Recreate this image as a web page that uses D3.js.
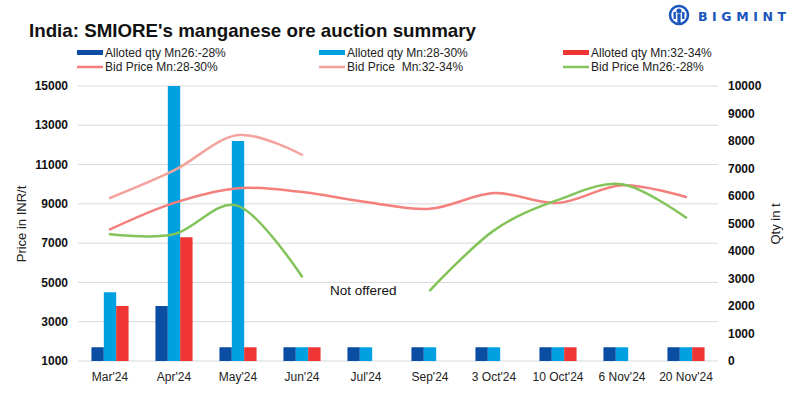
<!DOCTYPE html>
<html>
<head>
<meta charset="utf-8">
<script src="https://cdn.jsdelivr.net/npm/d3@7"></script>
<style>
  body { margin: 0; background: #fff; }
  svg { font-family: "Liberation Sans", Arial, sans-serif; }
  .grid line { stroke: #d9d9d9; stroke-width: 1; }
  .tick-label { font-size: 12px; font-weight: bold; fill: #111; }
  .cat-label { font-size: 12px; fill: #222; }
  .axis-title { font-size: 13px; fill: #222; }
  .legend text { font-size: 12px; fill: #222; }
</style>
</head>
<body>
<svg width="797" height="398"></svg>
<script>
// categories and values
var categories = ["Mar'24", "Apr'24", "May'24", "Jun'24", "Jul'24", "Sep'24", "3 Oct'24", "10 Oct'24", "6 Nov'24", "20 Nov'24"];

// allotted quantity, tonnes (right axis)
var qtyMn26 = [500, 2000, 500, 500, 500, 500, 500, 500, 500, 500];
var qtyMn28 = [2500, 10000, 8000, 500, 500, 500, 500, 500, 500, 500];
var qtyMn32 = [2000, 4500, 500, 500, 0, 0, 0, 500, 0, 500];

// bid prices, INR/t (left axis); null = not offered
var priceMn28 = [7700, 9050, 9800, 9600, 9100, 8750, 9550, 9050, 9950, 9350];
var priceMn32 = [9300, 10700, 12500, 11500, null, null, null, null, null, null];
var priceMn26 = [7450, 7450, 8900, 5300, null, 4600, 7650, 9200, 10000, 8300];

var leftTicks = [1000, 3000, 5000, 7000, 9000, 11000, 13000, 15000];
var rightTicks = [0, 1000, 2000, 3000, 4000, 5000, 6000, 7000, 8000, 9000, 10000];

var barSeries = [
  { name: "Alloted qty Mn26:-28%", values: qtyMn26, color: "#0a4da2" },
  { name: "Alloted qty Mn:28-30%", values: qtyMn28, color: "#00a1e1" },
  { name: "Alloted qty Mn:32-34%", values: qtyMn32, color: "#ee3533" }
];
var lineSeries = [
  { name: "Bid Price Mn:28-30%", values: priceMn28, color: "#f47f7c" },
  { name: "Bid Price  Mn:32-34%", values: priceMn32, color: "#f4a39c" },
  { name: "Bid Price Mn26:-28%", values: priceMn26, color: "#82c45a" }
];

var svg = d3.select("svg");

var g = {
  header: svg.append("g").attr("id", "header"),
  legend: svg.append("g").attr("class", "legend"),
  grid: svg.append("g").attr("class", "grid"),
  bars: svg.append("g").attr("id", "bars"),
  lines: svg.append("g").attr("id", "lines"),
  axes: svg.append("g").attr("id", "axes")
};

var plot = { left: 78, right: 718, top: 86, bottom: 361 };

var x = d3.scaleBand()
  .domain(categories)
  .range([plot.left, plot.right])
  .paddingInner(0.42)
  .paddingOuter(0.21);

var xSub = d3.scaleBand()
  .domain(d3.range(barSeries.length))
  .range([0, x.bandwidth()]);

var yLeft = d3.scaleLinear().domain([1000, 15000]).range([plot.bottom, plot.top]);
var yRight = d3.scaleLinear().domain([0, 10000]).range([plot.bottom, plot.top]);

// title
g.header.append("text")
  .attr("x", 29)
  .attr("y", 37)
  .attr("textLength", 447)
  .attr("lengthAdjust", "spacingAndGlyphs")
  .style("font-size", "19px")
  .style("font-weight", "bold")
  .style("fill", "#111")
  .text("India: SMIORE's manganese ore auction summary");

// logo
var logo = g.header.append("g").attr("transform", translate(679, 15));
logo.append("circle").attr("r", 9).attr("fill", "none").attr("stroke", "#1a56bd").attr("stroke-width", 2.6);
logo.append("circle").attr("cx", 0).attr("cy", -4).attr("r", 2.6).attr("fill", "#1a56bd");
logo.append("rect").attr("x", -1.6).attr("y", -1).attr("width", 3.2).attr("height", 9).attr("fill", "#1a56bd");
logo.append("rect").attr("x", -5.5).attr("y", -3).attr("width", 2.4).attr("height", 7).attr("fill", "#1a56bd");
logo.append("rect").attr("x", 3.1).attr("y", -3).attr("width", 2.4).attr("height", 7).attr("fill", "#1a56bd");
g.header.append("text")
  .attr("x", 698)
  .attr("y", 20.5)
  .attr("textLength", 88)
  .attr("lengthAdjust", "spacing")
  .style("font-family", "'DejaVu Sans', sans-serif")
  .style("font-size", "12.5px")
  .style("font-weight", "bold")
  .style("fill", "#1a56bd")
  .text("BIGMINT");

// legend
var legendX = [77, 319, 563];

var barLegend = g.legend.selectAll("g.bar-item")
  .data(barSeries)
  .enter()
  .append("g")
  .attr("class", "bar-item")
  .attr("transform", function(d, i) { return translate(legendX[i], 50); });

barLegend.append("rect")
  .attr("width", 26)
  .attr("height", 5)
  .attr("fill", function(d) { return d.color; });

barLegend.append("text")
  .attr("x", 28)
  .attr("y", 6.5)
  .text(function(d) { return d.name; });

var lineLegend = g.legend.selectAll("g.line-item")
  .data(lineSeries)
  .enter()
  .append("g")
  .attr("class", "line-item")
  .attr("transform", function(d, i) { return translate(legendX[i], 67); });

lineLegend.append("line")
  .attr("x1", 0)
  .attr("x2", 26)
  .attr("stroke", function(d) { return d.color; })
  .attr("stroke-width", 2.5);

lineLegend.append("text")
  .attr("x", 28)
  .attr("y", 4)
  .style("white-space", "pre")
  .text(function(d) { return d.name; });

// gridlines on the left axis ticks
g.grid.selectAll("line")
  .data(leftTicks)
  .enter()
  .append("line")
  .attr("x1", plot.left)
  .attr("x2", plot.right)
  .attr("y1", function(d) { return yLeft(d); })
  .attr("y2", function(d) { return yLeft(d); });

// bars
var groups = g.bars.selectAll("g")
  .data(categories)
  .enter()
  .append("g")
  .attr("transform", function(d) { return translate(x(d), 0); });

groups.selectAll("rect")
  .data(function(d, ci) {
    return barSeries.map(function(s, si) { return { si: si, value: s.values[ci], color: s.color }; });
  })
  .enter()
  .filter(function(d) { return d.value > 0; })
  .append("rect")
  .attr("x", function(d) { return xSub(d.si); })
  .attr("width", xSub.bandwidth())
  .attr("y", function(d) { return yRight(d.value); })
  .attr("height", function(d) { return yRight(0) - yRight(d.value); })
  .attr("fill", function(d) { return d.color; });

// smoothed price lines
var line = d3.line()
  .defined(function(d) { return d != null; })
  .x(function(d, i) { return x(categories[i]) + x.bandwidth() / 2; })
  .y(function(d) { return yLeft(d); })
  .curve(d3.curveCatmullRom.alpha(0));

g.lines.selectAll("path")
  .data(lineSeries)
  .enter()
  .append("path")
  .attr("d", function(d) { return line(d.values); })
  .attr("fill", "none")
  .attr("stroke", function(d) { return d.color; })
  .attr("stroke-width", 2.5)
  .attr("stroke-linecap", "round");

g.lines.append("text")
  .attr("x", 330)
  .attr("y", 295)
  .style("font-size", "13.5px")
  .style("fill", "#111")
  .text("Not offered");

// axes labels
g.axes.selectAll("text.left")
  .data(leftTicks)
  .enter()
  .append("text")
  .attr("class", "tick-label left")
  .attr("x", 68)
  .attr("y", function(d) { return yLeft(d); })
  .attr("dy", "0.35em")
  .attr("text-anchor", "end")
  .text(function(d) { return d; });

g.axes.selectAll("text.right")
  .data(rightTicks)
  .enter()
  .append("text")
  .attr("class", "tick-label right")
  .attr("x", 728)
  .attr("y", function(d) { return yRight(d); })
  .attr("dy", "0.35em")
  .text(function(d) { return d; });

g.axes.selectAll("text.cat")
  .data(categories)
  .enter()
  .append("text")
  .attr("class", "cat-label")
  .attr("x", function(d) { return x(d) + x.bandwidth() / 2; })
  .attr("y", 381)
  .attr("text-anchor", "middle")
  .text(function(d) { return d; });

g.axes.append("text")
  .attr("class", "axis-title")
  .attr("transform", translate(26, 224) + " rotate(-90)")
  .attr("text-anchor", "middle")
  .text("Price in INR/t");

g.axes.append("text")
  .attr("class", "axis-title")
  .attr("transform", translate(780, 224) + " rotate(-90)")
  .attr("text-anchor", "middle")
  .text("Qty in t");

function translate(x, y) {
  return "translate(" + String(x) + "," + String(y) + ")";
}
</script>
</body>
</html>
